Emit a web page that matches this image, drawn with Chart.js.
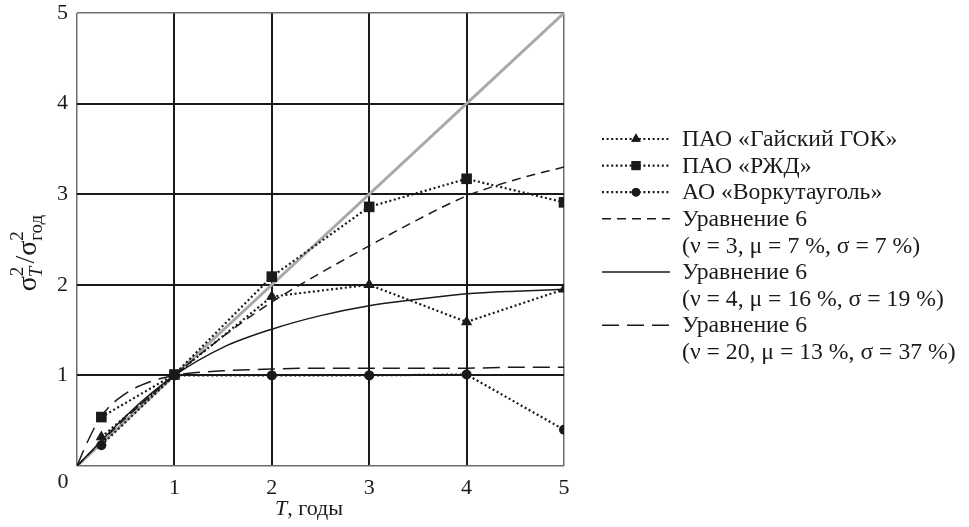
<!DOCTYPE html>
<html>
<head>
<meta charset="utf-8">
<script src="https://cdn.jsdelivr.net/npm/chart.js@4.4.0/dist/chart.umd.min.js"></script>
<style>
    html, body { margin: 0; padding: 0; background: #fff; }
</style>
</head>
<body>
<canvas id="chart" width="969" height="527"></canvas>
<script>
// Observed points (T in years)
const years = [0.25, 1, 2, 3, 4, 5];
const gaiskiy = [0.32, 1.0, 1.87, 2.0, 1.59, 1.95];
const rzd = [0.54, 1.01, 2.09, 2.86, 3.17, 2.91];
const vorkuta = [0.23, 1.0, 1.0, 1.0, 1.01, 0.40];

// Model curves
const eqYears = [0, 0.1, 0.25, 0.5, 0.75, 1, 1.5, 2, 2.5, 3, 3.5, 4, 4.5, 5];
const eqNu3 = [0, 0.11, 0.27, 0.53, 0.77, 1.0, 1.43, 1.81, 2.13, 2.43, 2.72, 2.98, 3.16, 3.30];
const eqNu4 = [0, 0.11, 0.28, 0.55, 0.79, 1.0, 1.31, 1.51, 1.66, 1.77, 1.84, 1.90, 1.93, 1.95];
const eqNu20 = [0, 0.25, 0.55, 0.80, 0.93, 1.0, 1.05, 1.07, 1.08, 1.08, 1.08, 1.08, 1.09, 1.09];

// Reference line sigma_T^2 = T
const diagYears = [0, 5];
const diagValues = [0, 5];

const xTicks = [0, 1, 2, 3, 4, 5];
const yTicks = [0, 1, 2, 3, 4, 5];

const legendLabels = [
    ['ПАО «Гайский ГОК»'],
    ['ПАО «РЖД»'],
    ['АО «Воркутауголь»'],
    ['Уравнение 6', '(ν = 3, μ = 7 %, σ = 7 %)'],
    ['Уравнение 6', '(ν = 4, μ = 16 %, σ = 19 %)'],
    ['Уравнение 6', '(ν = 20, μ = 13 %, σ = 37 %)']
];

const toPoints = (xs, ys) => xs.map((x, i) => ({ x: x, y: ys[i] }));
const serif = '"Liberation Serif", "Times New Roman", serif';
const ink = '#1a1a1a';

const dotted = {
    borderColor: ink,
    backgroundColor: ink,
    borderWidth: 2.2,
    borderDash: [2, 2.6],
    pointBorderWidth: 0,
    fill: false
};

const curve = {
    borderColor: ink,
    borderWidth: 1.5,
    pointRadius: 0,
    cubicInterpolationMode: 'monotone',
    fill: false
};

const datasets = [
    Object.assign({}, dotted, { label: 'gaiskiy', data: toPoints(years, gaiskiy), pointStyle: 'triangle', pointRadius: 6.5 }),
    Object.assign({}, dotted, { label: 'rzd', data: toPoints(years, rzd), pointStyle: 'rect', pointRadius: 7.5 }),
    Object.assign({}, dotted, { label: 'vorkuta', data: toPoints(years, vorkuta), pointStyle: 'circle', pointRadius: 5 }),
    Object.assign({}, curve, { label: 'nu3', data: toPoints(eqYears, eqNu3), borderDash: [9, 6] }),
    Object.assign({}, curve, { label: 'nu4', data: toPoints(eqYears, eqNu4) }),
    Object.assign({}, curve, { label: 'nu20', data: toPoints(eqYears, eqNu20), borderDash: [17, 8] }),
    { label: 'diag', data: toPoints(diagYears, diagValues), borderColor: '#a9a9a9', borderWidth: 3, pointRadius: 0, fill: false }
];

// Legend, axis titles and the shared "0" drawn by hand
const decorPlugin = {
    id: 'decor',
    afterDraw(chart) {
        const ctx = chart.ctx;
        ctx.save();
        ctx.fillStyle = ink;
        ctx.textBaseline = 'middle';

        // shared zero label
        ctx.font = '22px ' + serif;
        ctx.textAlign = 'center';
        ctx.fillText('0', 63, 482);

        // x title: "T, годы"
        ctx.textAlign = 'left';
        ctx.font = 'italic 22px ' + serif;
        const tW = ctx.measureText('T').width;
        ctx.font = '22px ' + serif;
        const restW = ctx.measureText(', годы').width;
        let x0 = 309 - (tW + restW) / 2;
        ctx.font = 'italic 22px ' + serif;
        ctx.fillText('T', x0, 509);
        ctx.font = '22px ' + serif;
        ctx.fillText(', годы', x0 + tW, 509);

        // y title: sigma_T^2 / sigma_год^2, rotated
        ctx.save();
        ctx.translate(27, 253);
        ctx.rotate(-Math.PI / 2);
        const big = '28px ' + serif;
        const small = '19px ' + serif;
        const smallIt = 'italic 19px ' + serif;
        ctx.font = big;
        const sW = ctx.measureText('σ').width;
        const slashW = ctx.measureText('/').width;
        ctx.font = small;
        const twoW = ctx.measureText('2').width;
        const godW = ctx.measureText('год').width;
        ctx.font = smallIt;
        const tSubW = ctx.measureText('T').width;
        const total = sW + Math.max(twoW, tSubW) + 2 + slashW + sW + Math.max(twoW, godW);
        let cx = -total / 2;
        ctx.textAlign = 'left';
        ctx.font = big;
        ctx.fillText('σ', cx, 2);
        cx += sW;
        ctx.font = small;
        ctx.fillText('2', cx, -9);
        ctx.font = smallIt;
        ctx.fillText('T', cx - 1, 10);
        cx += Math.max(twoW, tSubW) + 2;
        ctx.font = big;
        ctx.fillText('/', cx, 0);
        cx += slashW;
        ctx.fillText('σ', cx, 2);
        cx += sW;
        ctx.font = small;
        ctx.fillText('2', cx, -9);
        ctx.fillText('год', cx, 10);
        ctx.restore();

        // legend
        const lx0 = 602, lx1 = 670, tx = 682, rowH = 26.6;
        let row = 0;
        chart.data.datasets.slice(0, legendLabels.length).forEach((ds, i) => {
            const y = 139 + row * rowH;
            ctx.save();
            ctx.strokeStyle = ds.borderColor;
            ctx.lineWidth = ds.borderWidth;
            ctx.setLineDash(ds.borderDash || []);
            ctx.beginPath();
            ctx.moveTo(lx0, y);
            ctx.lineTo(lx1, y);
            ctx.stroke();
            ctx.restore();
            if (ds.pointRadius) {
                ctx.save();
                ctx.fillStyle = ink;
                Chart.helpers.drawPoint(ctx, {
                    pointStyle: ds.pointStyle,
                    radius: ds.pointRadius * 0.85,
                    borderWidth: 0
                }, (lx0 + lx1) / 2, y);
                ctx.fill();
                ctx.restore();
            }
            ctx.font = '23.7px ' + serif;
            ctx.fillStyle = ink;
            ctx.textAlign = 'left';
            legendLabels[i].forEach(line => {
                ctx.fillText(line, tx, 139 + row * rowH + 1);
                row++;
            });
        });
        ctx.restore();
    }
};

const gridColor = ctx => (ctx.index === 0 || ctx.index === 5) ? '#6e6e6e' : ink;
const gridWidth = ctx => (ctx.index === 0 || ctx.index === 5) ? 1.5 : 2;

new Chart(document.getElementById('chart'), {
    type: 'line',
    data: { datasets: datasets },
    options: {
        responsive: false,
        animation: false,
        layout: { padding: { left: 0, right: 405, top: 13, bottom: 0 } },
        plugins: {
            legend: { display: false },
            tooltip: { enabled: false }
        },
        scales: {
            x: {
                type: 'linear',
                min: 0,
                max: 5,
                afterFit: scale => { scale.height = 61; scale.paddingLeft = 0; scale.paddingRight = 0; },
                afterBuildTicks: scale => { scale.ticks = xTicks.map(v => ({ value: v })); },
                grid: { color: gridColor, lineWidth: gridWidth, drawTicks: false },
                border: { display: false },
                ticks: {
                    padding: 9,
                    color: ink,
                    font: { family: serif, size: 22 },
                    callback: v => v === 0 ? '' : String(v)
                }
            },
            y: {
                type: 'linear',
                min: 0,
                max: 5,
                afterFit: scale => { scale.width = 77; scale.paddingTop = 0; scale.paddingBottom = 0; },
                afterBuildTicks: scale => { scale.ticks = yTicks.map(v => ({ value: v })); },
                grid: { color: gridColor, lineWidth: gridWidth, drawTicks: false },
                border: { display: false },
                ticks: {
                    padding: 9,
                    color: ink,
                    font: { family: serif, size: 22 },
                    callback: v => v === 0 ? '' : String(v)
                }
            }
        }
    },
    plugins: [decorPlugin]
});
</script>
</body>
</html>
